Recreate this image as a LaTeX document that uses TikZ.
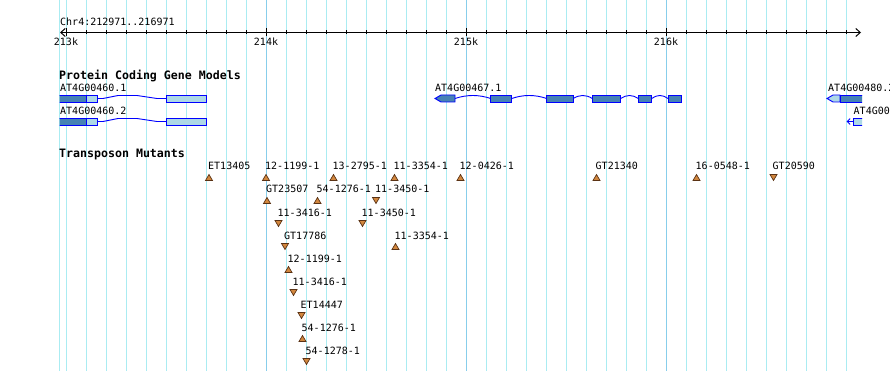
\documentclass[tikz,border=0pt]{standalone}
\usepackage{fontspec}
\setmonofont{DejaVu Sans Mono}
\usetikzlibrary{arrows.meta}
\definecolor{gridcyan}{RGB}{170,236,242}
\definecolor{gridsky}{RGB}{135,206,235}
\definecolor{cdsblue}{RGB}{70,130,180}
\definecolor{utrblue}{RGB}{173,216,230}
\definecolor{mutorange}{RGB}{210,135,62}
\definecolor{mutbrown}{RGB}{90,50,20}

\begin{document}
\begin{tikzpicture}[x=1pt, y=-1pt,
  gridline/.style={gridcyan, line width=1pt},
  majorline/.style={gridsky, line width=1pt},
  lbl/.style={font=\ttfamily\fontsize{10}{12}\selectfont, anchor=base west, inner sep=0pt},
  track/.style={font=\ttfamily\bfseries\fontsize{11.6}{14}\selectfont, anchor=base west, inner sep=0pt},
  cds/.style={draw=blue, fill=cdsblue, line width=0.9pt},
  utr/.style={draw=blue, fill=utrblue, line width=0.9pt},
  intron/.style={blue, line width=0.9pt},
  mutant/.style={draw=mutbrown, fill=mutorange, line width=0.7pt, line join=miter},
  barb/.style={line width=1pt, {Straight Barb[length=4.5pt,width=8pt]}-{Straight Barb[length=4.5pt,width=8pt]}}]
  \useasboundingbox[fill=white] (0,0) rectangle (890,371);

  % Grid lines
  \draw[gridline] (59.5,0) -- (59.5,371);
  \foreach \x in {66,86,...,846}
    \draw[gridline] (\x,0) -- (\x,371);
  \foreach \x in {266,466,666}
    \draw[majorline] (\x,0) -- (\x,371);

  % Ruler
  \node[lbl] (region) at (60,25.5) {Chr4:212971..216971};
  \draw[barb] (60,32.5) -- (861,32.5);
  \foreach \x in {86,106,...,846}
    \draw[line width=1pt] (\x,30.5) -- (\x,34.5);
  \foreach \x/\k in {66/213k, 266/214k, 466/215k, 666/216k} {
    \draw[line width=1pt] (\x,28.5) -- (\x,36.5);
    \node[lbl, anchor=base] (tick\k) at (\x,45.5) {\k};
  }

  % Protein coding gene models
  \node[track] (genes) at (59,80) {Protein Coding Gene Models};
  \node[lbl] (g460a) at (60,92) {AT4G00460.1};
  \node[lbl] (g460b) at (60,114.5) {AT4G00460.2};
  \node[lbl] (g467) at (435,92) {AT4G00467.1};
  \node[lbl] (g480a) at (828,92) {AT4G00480.2};
  \node[lbl] (g480b) at (853.5,114.5) {AT4G00};
  \begin{scope}
    \clip (59.5,60) rectangle (862,130);
    % AT4G00460.1 and .2
    \foreach \t in {95,118} {
      \draw[cds] (50,\t) rectangle (86,{\t+7});
      \draw[utr] (86,\t) rectangle (97,{\t+7});
      \draw[intron] (97,{\t+3.5}) -- (103,{\t+3.5}) -- (118,{\t+0.5}) -- (137,{\t+0.5}) -- (157,{\t+3.5}) -- (166,{\t+3.5});
      \draw[utr] (166,\t) rectangle (206,{\t+7});
    }
    % AT4G00467.1
    \foreach \a/\b in {455/490.7, 511.7/546.7, 573.3/592.3, 620.7/638.3, 651.7/668}
      \draw[intron] (\a,98.5) .. controls ({\a+(\b-\a)/3},94.5) and ({\b-(\b-\a)/3},94.5) .. (\b,98.5);
    \draw[cds] (435,98.5) -- (441,95) -- (455,95) -- (455,102) -- (441,102) -- cycle;
    \foreach \a/\b in {490.7/511.7, 546.7/573.3, 592.3/620.7, 638.3/651.7, 668/681.7}
      \draw[cds] (\a,95) rectangle (\b,102);
    % AT4G00480
    \draw[utr] (827,98.5) -- (833,95) -- (840,95) -- (840,102) -- (833,102) -- cycle;
    \draw[cds] (840,95) rectangle (875,102);
    \draw[intron, {Straight Barb[length=3pt,width=6pt]}-] (846.5,121.5) -- (853,121.5);
    \draw[utr] (853,118) rectangle (875,125);
  \end{scope}

  % Transposon mutants
  \node[track] (mutants) at (59,158) {Transposon Mutants};
  \foreach \lx/\by/\lab/\d [count=\i] in {
      208/170/ET13405/1, 265/170/12-1199-1/1, 332.5/170/13-2795-1/1,
      393.5/170/11-3354-1/1, 459.5/170/12-0426-1/1, 595.5/170/GT21340/1,
      695.5/170/16-0548-1/1, 772.5/170/GT20590/-1,
      266/193/GT23507/1, 316.5/193/54-1276-1/1, 375/193/11-3450-1/-1,
      277.5/216/11-3416-1/-1, 361.5/216/11-3450-1/-1,
      284/239/GT17786/-1, 394.5/239/11-3354-1/1,
      287.5/262/12-1199-1/1, 292.5/285/11-3416-1/-1,
      300.5/308/ET14447/-1, 301.5/331/54-1276-1/1, 305.5/354/54-1278-1/-1} {
    \node[lbl] (mut\i) at (\lx,\by) {\lab};
    \draw[mutant] ({\lx+1-3.5},{\by+7.5+3*\d}) -- ({\lx+1+3.5},{\by+7.5+3*\d})
      -- ({\lx+1},{\by+7.5-3*\d}) -- cycle;
  }
\end{tikzpicture}
\end{document}
